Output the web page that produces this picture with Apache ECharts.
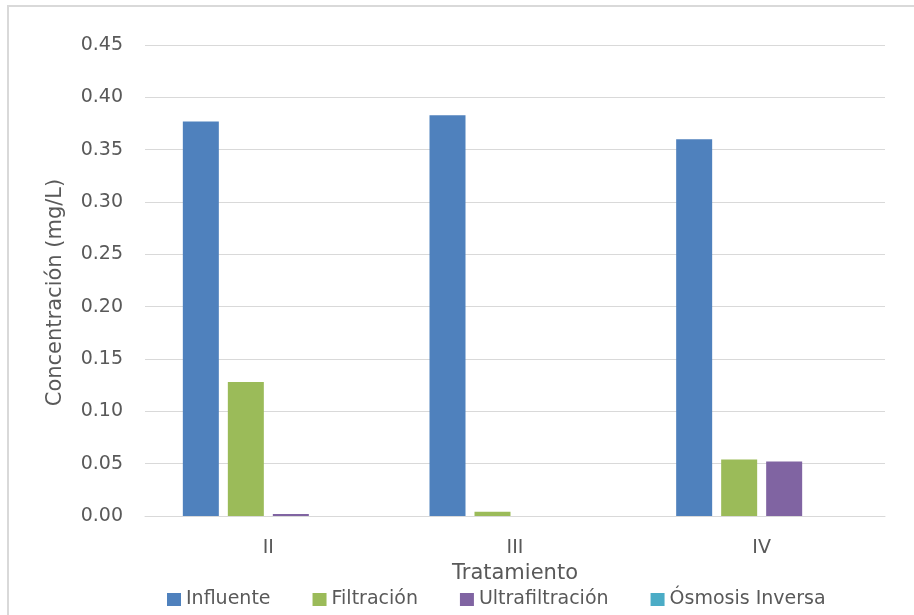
<!DOCTYPE html>
<html>
<head>
<meta charset="utf-8">
<script src="https://cdn.jsdelivr.net/npm/echarts@6/dist/echarts.min.js"></script>
<style>html,body{margin:0;padding:0;background:#fff;}#c{width:914px;height:615px;}</style>
</head>
<body>
<div id="c"></div>
<script>
var categories = ['II', 'III', 'IV'];
var influente = [0.377, 0.383, 0.360];
var filtracion = [0.128, 0.004, 0.054];
var ultrafiltracion = [0.002, 0, 0.052];
var osmosis = [0, 0, 0];
var seriesNames = ['Influente', 'Filtración', 'Ultrafiltración', 'Ósmosis Inversa'];
var colors = ['#4F81BD', '#9BBB59', '#8064A2', '#4BACC6'];

var font = 'DejaVu Sans';
var chart = echarts.init(document.getElementById('c'));
var dataSets = [influente, filtracion, ultrafiltracion, osmosis];
chart.setOption({
  animation: false,
  color: colors,
  graphic: [{
    type: 'rect', shape: {x: 8, y: 6, width: 930, height: 640},
    style: {fill: 'none', stroke: '#d9d9d9', lineWidth: 2}, silent: true
  }],
  grid: {left: 145, right: 29, top: 45, bottom: 99},
  legend: {
    data: seriesNames, top: 585, left: 162,
    itemWidth: 14, itemHeight: 13, itemGap: 42, icon: 'rect',
    textStyle: {fontFamily: font, fontSize: 19, color: '#595959'}
  },
  xAxis: {
    type: 'category', data: categories,
    name: 'Tratamiento', nameLocation: 'middle', nameGap: 44,
    nameTextStyle: {fontFamily: font, fontSize: 21, color: '#595959'},
    axisLine: {lineStyle: {color: '#d9d9d9', width: 1}},
    axisTick: {show: false},
    axisLabel: {fontFamily: font, fontSize: 19, color: '#595959', margin: 23}
  },
  yAxis: {
    type: 'value', min: 0, max: 0.45, interval: 0.05,
    name: 'Concentración (mg/L)', nameLocation: 'middle', nameGap: 79,
    nameTextStyle: {fontFamily: font, fontSize: 21, color: '#595959', padding: [0, 24, 0, 0]},
    axisLine: {show: false}, axisTick: {show: false},
    axisLabel: {fontFamily: font, fontSize: 19, color: '#595959', margin: 22,
      formatter: function (v) { return v.toFixed(2); }},
    splitLine: {lineStyle: {color: '#d9d9d9', width: 1}}
  },
  series: seriesNames.map(function (n, i) {
    return {
      name: n, type: 'bar', data: dataSets[i],
      barWidth: 36, barGap: '25%',
      itemStyle: {color: colors[i]}
    };
  })
});
</script>
</body>
</html>
